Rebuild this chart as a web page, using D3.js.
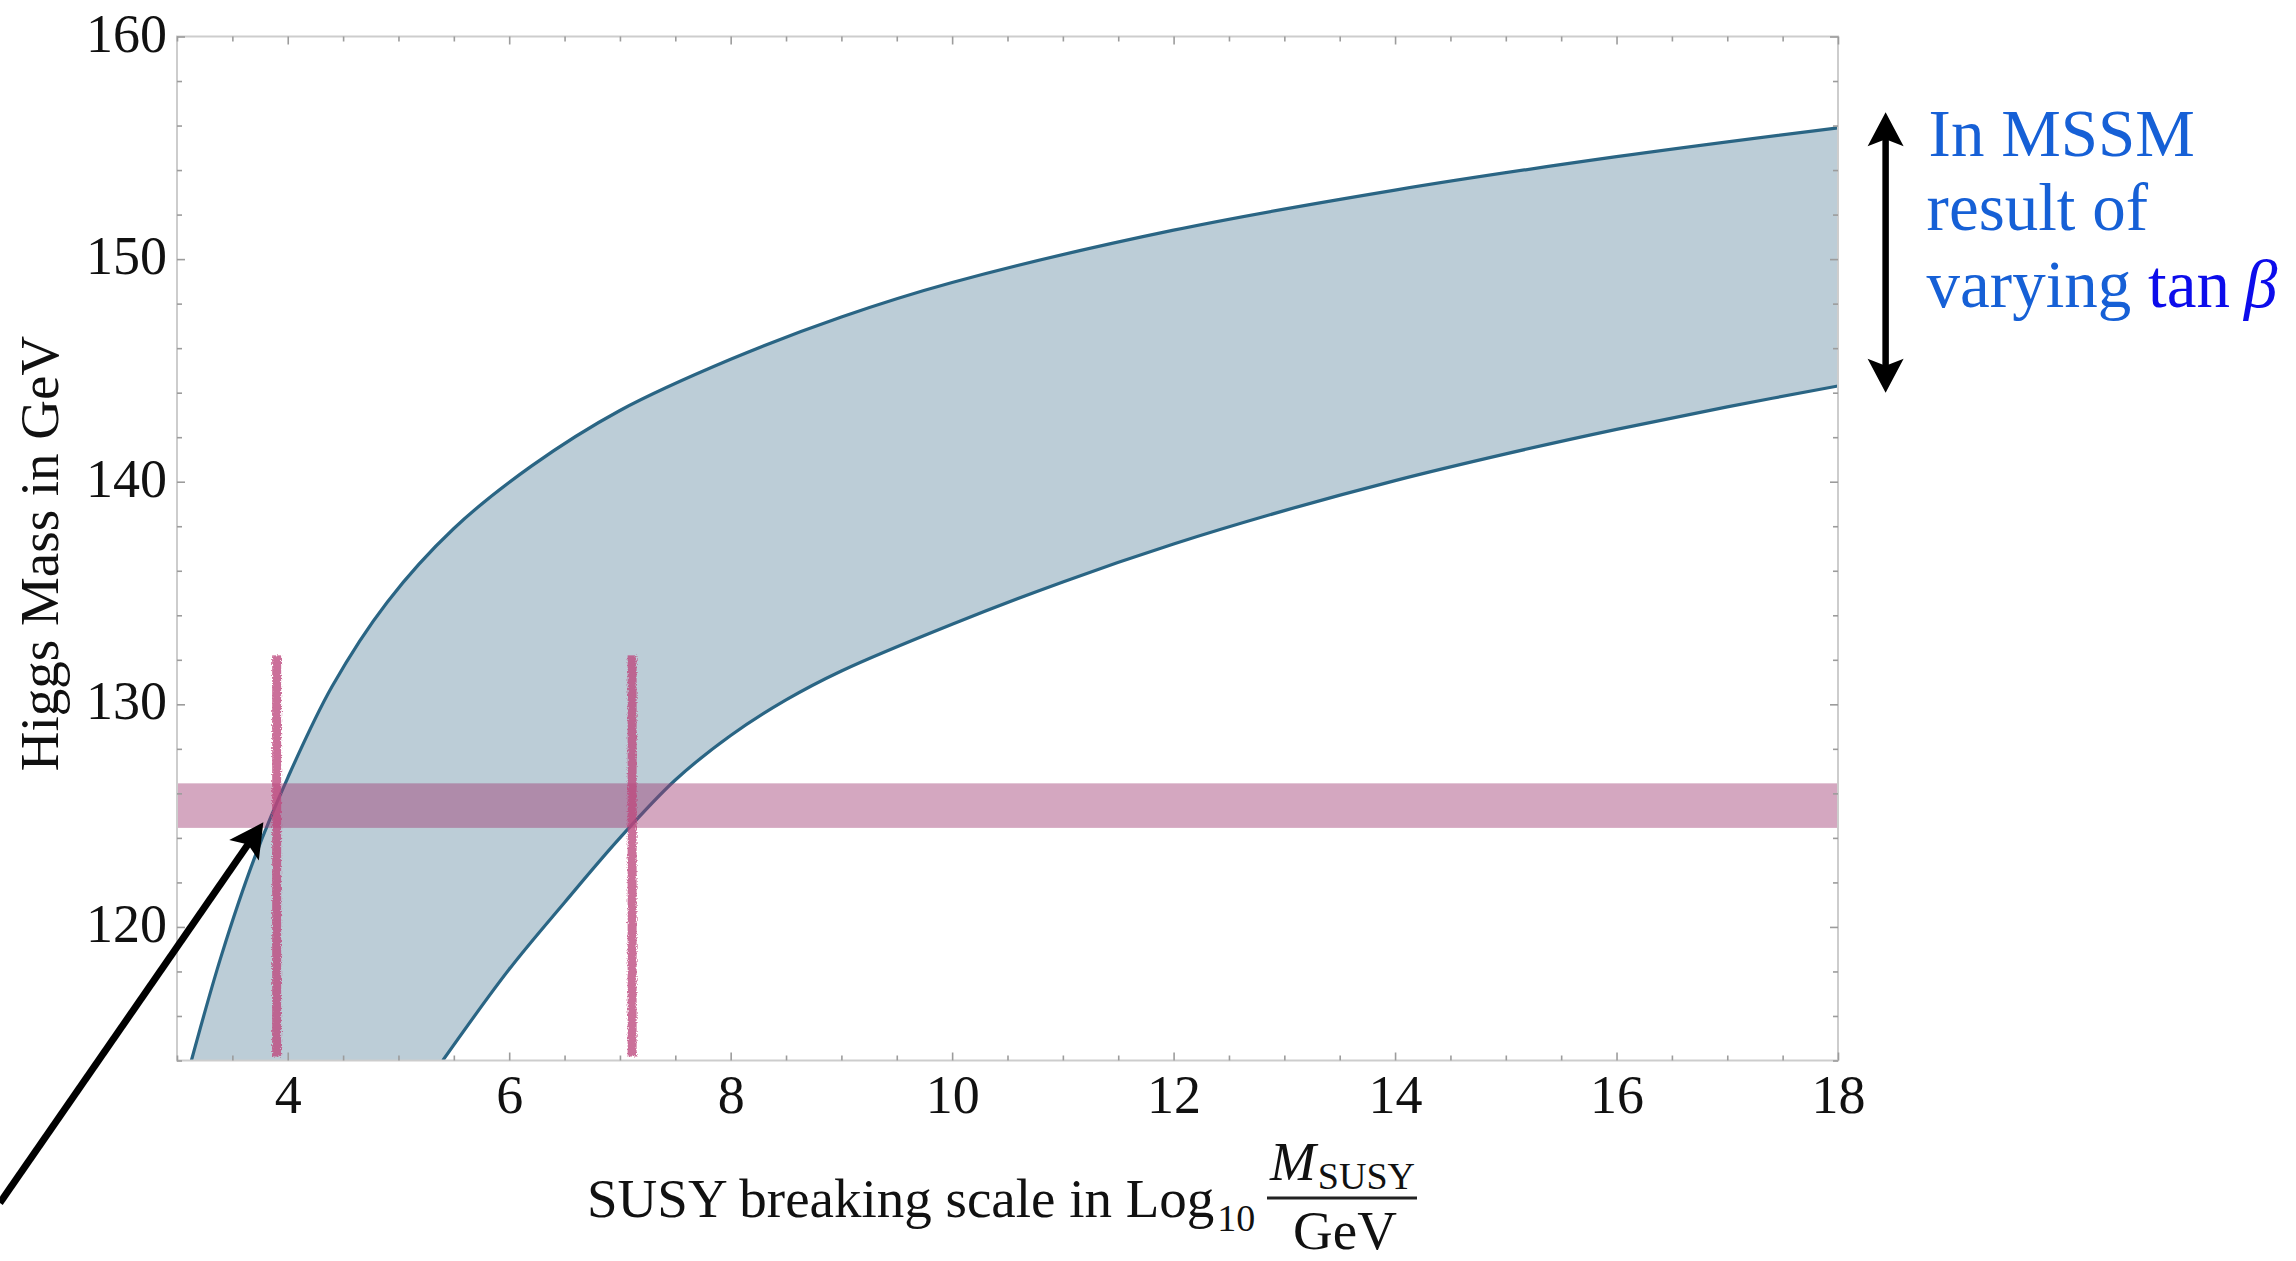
<!DOCTYPE html>
<html>
<head>
<meta charset="utf-8">
<script src="https://cdn.jsdelivr.net/npm/d3@7"></script>
<style>
  html, body { margin: 0; padding: 0; background: #fff; }
  svg { display: block; font-family: "Liberation Serif", "Times New Roman", serif; }
</style>
</head>
<body>
<svg id="chart" width="2296" height="1261"></svg>
<script>
// ---- Data -------------------------------------------------------------
// Upper edge of the MSSM Higgs-mass band (GeV) vs log10(M_SUSY/GeV)
const upperX = [3.13, 3.4, 3.7, 4.0, 4.4, 4.9, 5.5, 6.2, 7, 8, 9, 10, 12, 14, 16, 18];
const upperM = [114, 118.7, 123.1, 126.7, 130.8, 134.6, 137.9, 140.7, 143.2, 145.5, 147.4, 148.95, 151.3, 153.1, 154.6, 155.9];
// Lower edge of the band
const lowerX = [5.4, 6, 6.5, 7, 7.5, 8, 8.5, 9, 10, 11, 12, 13, 14, 15, 16, 17, 18];
const lowerM = [114, 118.1, 121.1, 124.0, 126.6, 128.6, 130.2, 131.5, 133.6, 135.5, 137.2, 138.7, 140.05, 141.25, 142.35, 143.36, 144.3];
// Measured Higgs mass window (GeV)
const higgsWindow = [124.45, 126.45];
// SUSY scales where the band edges meet the measured mass, and the top of their markers
const crossingScales = [3.90, 7.11];
const crossingTop = 132.2;
// Axis ticks
const xTickLabels = [4, 6, 8, 10, 12, 14, 16, 18];
const yTickLabels = [120, 130, 140, 150, 160];
const xDomain = [3, 18];
const yDomain = [114, 160];
// Annotation anchors (data units)
const tanBetaArrow = { x: 18.43, from: 144.0, to: 156.6 };
const pointerArrow = { tail: [1.40, 107.6], tip: [3.78, 124.7] };

// ---- Layout -------------------------------------------------------------
const plot = { left: 177, right: 1838, top: 36.5, bottom: 1060.5 };
const svg = d3.select("#chart");
const x = d3.scaleLinear().domain(xDomain).range([plot.left, plot.right]);
const y = d3.scaleLinear().domain(yDomain).range([plot.bottom, plot.top]);

const defs = svg.append("defs");
defs.append("clipPath").attr("id", "plot-clip")
  .append("rect")
  .attr("x", plot.left).attr("y", plot.top)
  .attr("width", plot.right - plot.left).attr("height", plot.bottom - plot.top);

// rough, marker-like edge for the crossing lines
const rough = defs.append("filter").attr("id", "rough")
  .attr("filterUnits", "userSpaceOnUse")
  .attr("x", plot.left).attr("y", plot.top)
  .attr("width", plot.right - plot.left).attr("height", plot.bottom - plot.top);
rough.append("feTurbulence").attr("type", "fractalNoise")
  .attr("baseFrequency", "0.8").attr("numOctaves", 2).attr("seed", 3).attr("result", "noise");
rough.append("feDisplacementMap").attr("in", "SourceGraphic").attr("in2", "noise")
  .attr("scale", 4).attr("xChannelSelector", "R").attr("yChannelSelector", "G");

const upperPts = upperX.map((v, i) => [v, upperM[i]]);
const lowerPts = lowerX.map((v, i) => [v, lowerM[i]]);

const line = d3.line()
  .x(d => x(d[0])).y(d => y(d[1]))
  .curve(d3.curveCatmullRom.alpha(0.5));

const gPlot = svg.append("g").attr("clip-path", "url(#plot-clip)");

// band fill: upper edge forward, lower edge back, closed along the bottom frame
const upperPath = line(upperPts);
const lowerBack = line(lowerPts.slice().reverse()).replace(/^M/, "L");
const bandPath = upperPath + lowerBack +
  "L" + x(upperPts[0][0]) + "," + y(yDomain[0]) + "Z";

gPlot.append("path")
  .attr("d", bandPath)
  .attr("fill", "#bccdd7")
  .attr("stroke", "none");

[upperPts, lowerPts].forEach(pts => {
  gPlot.append("path")
    .attr("d", line(pts))
    .attr("fill", "none")
    .attr("stroke", "#2a6584")
    .attr("stroke-width", 3.2);
});

// measured Higgs mass window
gPlot.append("rect")
  .attr("x", plot.left)
  .attr("width", plot.right - plot.left)
  .attr("y", y(higgsWindow[1]))
  .attr("height", y(higgsWindow[0]) - y(higgsWindow[1]))
  .attr("fill", "rgb(160,60,115)")
  .attr("fill-opacity", 0.45);

// crossing markers
gPlot.append("g").attr("filter", "url(#rough)")
  .selectAll("rect.crossing")
  .data(crossingScales)
  .join("rect")
  .attr("class", "crossing")
  .attr("x", d => x(d) - 4.5).attr("width", 9)
  .attr("y", y(crossingTop))
  .attr("height", y(yDomain[0]) - 4 - y(crossingTop))
  .attr("fill", "rgb(188,72,126)")
  .attr("fill-opacity", 0.78);

// ---- Frame and ticks ----------------------------------------------------
const tickColor = "#9c9c9c";
const xMinor = d3.range(xDomain[0], xDomain[1] + 0.001, 0.5).filter(v => !xTickLabels.includes(v));
const yMinor = d3.range(yDomain[0], yDomain[1] + 0.001, 2).filter(v => !yTickLabels.includes(v));

function styleAxis(g) {
  g.select(".domain").remove();
  g.selectAll(".tick line").attr("stroke", tickColor).attr("stroke-width", 1.6);
}

svg.append("rect")
  .attr("x", plot.left).attr("y", plot.top)
  .attr("width", plot.right - plot.left).attr("height", plot.bottom - plot.top)
  .attr("fill", "none").attr("stroke", "#cdcdcd").attr("stroke-width", 2);

// bottom
svg.append("g").attr("transform", `translate(0,${plot.bottom})`)
  .call(d3.axisBottom(x).tickValues(xTickLabels).tickSize(-8).tickPadding(14).tickFormat(d3.format("d")))
  .call(styleAxis)
  .call(g => g.selectAll("text")
    .attr("font-family", "Liberation Serif").attr("font-size", 54).attr("fill", "#111")
    .attr("dy", "0.71em"));
svg.append("g").attr("transform", `translate(0,${plot.bottom})`)
  .call(d3.axisBottom(x).tickValues(xMinor).tickSize(-5).tickFormat(""))
  .call(styleAxis);
// top
svg.append("g").attr("transform", `translate(0,${plot.top})`)
  .call(d3.axisTop(x).tickValues(xTickLabels).tickSize(-8).tickFormat(""))
  .call(styleAxis);
svg.append("g").attr("transform", `translate(0,${plot.top})`)
  .call(d3.axisTop(x).tickValues(xMinor).tickSize(-5).tickFormat(""))
  .call(styleAxis);
// left
svg.append("g").attr("transform", `translate(${plot.left},0)`)
  .call(d3.axisLeft(y).tickValues(yTickLabels).tickSize(-8).tickPadding(10).tickFormat(d3.format("d")))
  .call(styleAxis)
  .call(g => g.selectAll("text")
    .attr("font-family", "Liberation Serif").attr("font-size", 54).attr("fill", "#111")
    .attr("dy", "0.27em"));
svg.append("g").attr("transform", `translate(${plot.left},0)`)
  .call(d3.axisLeft(y).tickValues(yMinor).tickSize(-5).tickFormat(""))
  .call(styleAxis);
// right
svg.append("g").attr("transform", `translate(${plot.right},0)`)
  .call(d3.axisRight(y).tickValues(yTickLabels).tickSize(-8).tickFormat(""))
  .call(styleAxis);
svg.append("g").attr("transform", `translate(${plot.right},0)`)
  .call(d3.axisRight(y).tickValues(yMinor).tickSize(-5).tickFormat(""))
  .call(styleAxis);

// ---- Axis titles --------------------------------------------------------
svg.append("text")
  .attr("transform", `translate(58,${(plot.top + plot.bottom) / 2 + 5}) rotate(-90)`)
  .attr("text-anchor", "middle")
  .attr("font-size", 55)
  .attr("fill", "#111")
  .text("Higgs Mass in GeV");

const xt = svg.append("text")
  .attr("x", 587).attr("y", 1217)
  .attr("font-size", 55).attr("fill", "#111");
xt.append("tspan").text("SUSY breaking scale in Log");
xt.append("tspan").attr("font-size", 38).attr("dy", 14).attr("dx", 3).text("10");

// fraction M_SUSY / GeV
const frac = { left: 1267, right: 1417, bar: 1198 };
svg.append("line")
  .attr("x1", frac.left).attr("x2", frac.right)
  .attr("y1", frac.bar).attr("y2", frac.bar)
  .attr("stroke", "#222").attr("stroke-width", 3.2);
const num = svg.append("text").attr("x", 1270).attr("y", 1180).attr("fill", "#111");
num.append("tspan").attr("font-size", 55).attr("font-style", "italic").text("M");
num.append("tspan").attr("font-size", 38).attr("dy", 9).attr("dx", 2).text("SUSY");
svg.append("text")
  .attr("x", (frac.left + frac.right) / 2 + 3).attr("y", 1249)
  .attr("text-anchor", "middle")
  .attr("font-size", 55).attr("fill", "#111")
  .text("GeV");

// ---- Annotations --------------------------------------------------------
function headPoints(tip, from, len, half, notch) {
  const dx = tip[0] - from[0], dy = tip[1] - from[1];
  const L = Math.hypot(dx, dy), ux = dx / L, uy = dy / L, nx = -uy, ny = ux;
  const bx = tip[0] - ux * len, by = tip[1] - uy * len;
  return [tip, [bx + nx * half, by + ny * half],
          [tip[0] - ux * notch, tip[1] - uy * notch],
          [bx - nx * half, by - ny * half]];
}
function drawArrow(from, tip, opts) {
  const dx = tip[0] - from[0], dy = tip[1] - from[1];
  const L = Math.hypot(dx, dy);
  const end = [tip[0] - dx / L * (opts.notch - 2), tip[1] - dy / L * (opts.notch - 2)];
  svg.append("line")
    .attr("x1", from[0]).attr("y1", from[1]).attr("x2", end[0]).attr("y2", end[1])
    .attr("stroke", "#000").attr("stroke-width", opts.width);
  svg.append("polygon")
    .attr("points", headPoints(tip, from, opts.len, opts.half, opts.notch).map(p => p.join(",")).join(" "))
    .attr("fill", "#000");
}

// double arrow spanning the tan(beta) variation
const ax = x(tanBetaArrow.x);
const aTop = [ax, y(tanBetaArrow.to)], aBot = [ax, y(tanBetaArrow.from)];
const mid = [ax, (aTop[1] + aBot[1]) / 2];
svg.append("line")
  .attr("x1", ax).attr("x2", ax)
  .attr("y1", aTop[1] + 26).attr("y2", aBot[1] - 26)
  .attr("stroke", "#000").attr("stroke-width", 6.5);
[aTop, aBot].forEach(tip => {
  svg.append("polygon")
    .attr("points", headPoints(tip, mid, 34, 18, 27).map(p => p.join(",")).join(" "))
    .attr("fill", "#000");
});

// pointer to the lower crossing
drawArrow([x(pointerArrow.tail[0]), y(pointerArrow.tail[1])],
          [x(pointerArrow.tip[0]), y(pointerArrow.tip[1])],
          { width: 7, len: 34, half: 18, notch: 27 });

const noteBlue = "rgb(22,96,214)";
const tx = ax + 43;
svg.append("text").attr("x", tx).attr("y", 156)
  .attr("font-size", 67).attr("fill", noteBlue).text("In MSSM");
svg.append("text").attr("x", tx - 2).attr("y", 230)
  .attr("font-size", 67).attr("fill", noteBlue).text("result of");
const t3 = svg.append("text").attr("x", tx - 2).attr("y", 307)
  .attr("font-size", 67).attr("fill", noteBlue);
t3.append("tspan").text("varying ");
t3.append("tspan").attr("fill", "rgb(12,12,235)").text("tan");
t3.append("tspan").attr("fill", "rgb(12,12,235)").attr("font-style", "italic").attr("dx", 14).text("β");
</script>
</body>
</html>
